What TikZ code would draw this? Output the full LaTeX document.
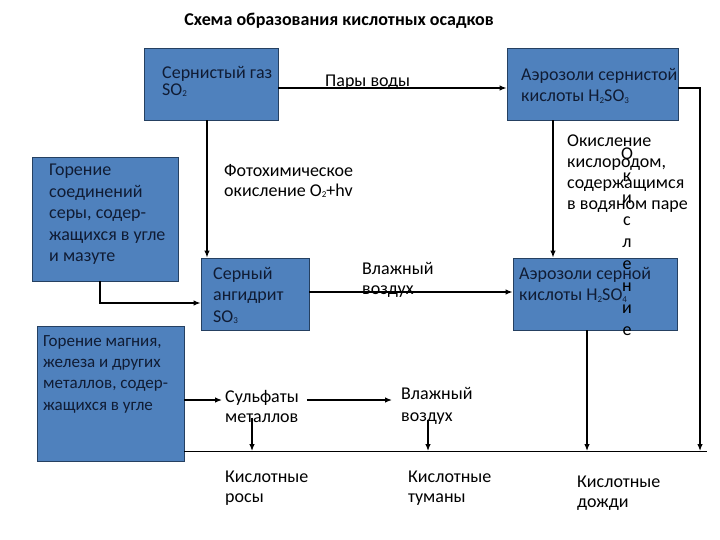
\documentclass[tikz,border=0pt]{standalone}
\usepackage{fontspec}
\setmainfont{Carlito}
\usetikzlibrary{arrows.meta, calc, positioning}

\definecolor{boxblue}{RGB}{79,129,189}
\definecolor{boxline}{RGB}{37,64,97}
\definecolor{boxtext}{RGB}{16,28,52}
\newcommand{\chsub}[1]{{\fontsize{9}{9}\selectfont\raisebox{-0.3ex}{#1}}}

\begin{document}
\begin{tikzpicture}[x=1pt, y=-1pt, >={Latex[length=7pt,width=5.5pt]},
    box/.style={draw=boxline, fill=boxblue, line width=0.9pt, inner sep=0pt},
    lbl/.style={anchor=north west, inner sep=0pt, align=left, font=\fontsize{18}{21.5}\selectfont},
    inlbl/.style={lbl, text=boxtext},
    flow/.style={->, line width=1.2pt}]
            \useasboundingbox (0,0) rectangle (720,540);

            \node[font=\bfseries\fontsize{18}{20}\selectfont] (title) at (339,21) {Схема образования кислотных осадков};

            % Boxes
            \node[box, minimum width=134pt, minimum height=72pt] (gas) at (211,84) {};
            \node[box, minimum width=171pt, minimum height=72pt] (aer3) at (592.5,84) {};
            \node[box, minimum width=146pt, minimum height=124pt] (burnS) at (105,219) {};
            \node[box, minimum width=108pt, minimum height=72pt] (anhyd) at (255,294) {};
            \node[box, minimum width=147pt, minimum height=135pt] (burnM) at (110.5,393.5) {};
            \node[box, minimum width=164pt, minimum height=72pt] (aer4) at (595,294) {};

            % Texts in boxes
            \node[inlbl, font=\fontsize{18}{17}\selectfont] (gas-t) at (162,66) {Сернистый газ\\SO\chsub{2}};
            \node[inlbl] (aer3-t) at (521,68) {Аэрозоли сернистой\\кислоты H\chsub{2}SO\chsub{3}};
            \node[inlbl] (burnS-t) at (49,164) {Горение\\соединений\\серы, содер-\\жащихся в угле\\и мазуте};
            \node[inlbl] (anhyd-t) at (213,267) {Серный\\ангидрит\\SO\chsub{3}};
            \node[inlbl] (aer4-t) at (519,267) {Аэрозоли серной\\кислоты H\chsub{2}SO\chsub{4}};
            \node[inlbl, font=\fontsize{17}{21.3}\selectfont] (burnM-t) at (43,335) {Горение магния,\\железа и других\\металлов, содер-\\жащихся в угле};

            % Free texts
            \node[lbl] (steam) at (325,75) {Пары воды};
            \node[lbl, font=\fontsize{18}{20}\selectfont] (photo) at (224,164) {Фотохимическое\\окисление O\chsub{2}+hv};
            \node[lbl, font=\fontsize{18}{20}\selectfont] (wet1) at (362,262) {Влажный\\воздух};
            \node[lbl, font=\fontsize{18}{21}\selectfont] (oxid) at (567,135) {Окисление\\кислородом,\\содержащимся\\в водяном паре};
            \node[lbl, anchor=north, align=center, font=\fontsize{18}{22}\selectfont] (oxid-v) at (627,148) {О\\к\\и\\с\\л\\е\\н\\и\\е};
            \node[lbl, font=\fontsize{18}{20}\selectfont] (sulf) at (225,390) {Сульфаты\\металлов};
            \node[lbl, font=\fontsize{18}{22}\selectfont] (wet2) at (401,387) {Влажный\\воздух};
            \node[lbl, font=\fontsize{18}{20}\selectfont] (dew) at (225,471) {Кислотные\\росы};
            \node[lbl, font=\fontsize{18}{20}\selectfont] (fog) at (408,471) {Кислотные\\туманы};
            \node[lbl, font=\fontsize{18}{20}\selectfont] (rain) at (577,476) {Кислотные\\дожди};

            \coordinate (ground) at (707,451);
            \coordinate (sulfin) at ([xshift=-3pt,yshift=-10pt]sulf.north west);
            \coordinate (wetin) at ([xshift=-9pt,yshift=-13pt]wet2.north west);
            \coordinate (sulfdown) at ([xshift=27pt,yshift=5pt]sulf.south west);
            \coordinate (wetdown) at ([xshift=27pt,yshift=5pt]wet2.south west);

            % Connections
            \draw[flow] ([yshift=-4pt]gas.east) -- ([yshift=-4pt]aer3.west);
            \draw[flow] ([xshift=-4pt]gas.south) -- ([xshift=-4pt]gas.south |- anhyd.north);
            \draw[flow] ([xshift=-5pt]burnS.south) |- ([yshift=-9pt]anhyd.west);
            \draw[flow] ([yshift=2pt]anhyd.east) -- ([yshift=2pt]anhyd.east -| aer4.west);
            \draw[flow] ([xshift=-39.5pt]aer3.south) -- ([xshift=-39.5pt]aer3.south |- aer4.north);

            \draw[line width=0.9pt] (burnM.east |- ground) -- (ground);
            \draw[flow] ([yshift=-4pt]aer3.east) -| ([xshift=-7pt]ground);
            \draw[flow] ([xshift=-8pt]aer4.south) -- ([xshift=-8pt]aer4.south |- ground);

            \draw[flow] (burnM.east |- sulfin) -- (sulfin);
            \draw[flow] ($(sulf.east |- wetin)+(8,0)$) -- (wetin);
            \draw[flow] (sulfdown) -- (sulfdown |- ground);
            \draw[flow] (wetdown) -- (wetdown |- ground);
        \end{tikzpicture}
\end{document}
